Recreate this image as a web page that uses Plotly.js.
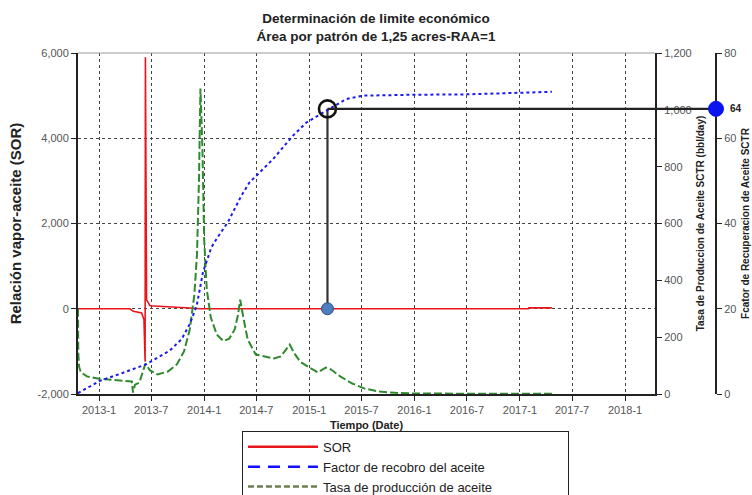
<!DOCTYPE html>
<html>
<head>
<meta charset="utf-8">
<script src="https://cdn.plot.ly/plotly-3.0.1.min.js"></script>
<style>html,body{margin:0;padding:0;background:#fff;}#chart{width:752px;height:495px;}</style>
</head>
<body>
<div id="chart"></div>
<script>
// ---- Data ----
const sorDates = ['2012-10-20','2013-04-18','2013-04-30','2013-05-29','2013-06-06','2013-06-10','2013-06-11','2013-06-13','2013-06-15','2013-06-27','2013-08-24','2013-11-12','2013-12-17','2014-06-01','2015-06-01','2016-06-01','2017-01-30','2017-02-01','2017-04-22'];
const sorValues = [0,0,-60,-100,-260,-1240,5900,3550,210,70,40,16,0,0,0,0,0,20,20];

const rateDates = ['2012-10-20','2012-10-21','2012-10-24','2012-10-30','2012-11-20','2013-01-01','2013-02-10','2013-03-20','2013-04-25','2013-04-29','2013-05-06','2013-05-21','2013-06-11','2013-06-27','2013-07-23','2013-08-28','2013-09-28','2013-10-23','2013-11-12','2013-11-28','2013-12-07','2013-12-14','2013-12-19','2013-12-26','2014-01-01','2014-01-10','2014-01-24','2014-02-14','2014-03-09','2014-03-29','2014-04-17','2014-04-28','2014-05-06','2014-05-17','2014-06-01','2014-06-29','2014-07-30','2014-08-31','2014-09-24','2014-10-15','2014-10-25','2014-11-10','2014-11-30','2015-01-01','2015-01-30','2015-02-27','2015-03-18','2015-04-18','2015-05-30','2015-07-12','2015-08-29','2015-10-27','2015-12-29','2016-07-01','2017-01-01','2017-04-22'];
const rateValues = [300,145,95,76,62,54,50,47,44,5,33,40,107,83,69,79,104,150,227,350,491,755,1075,860,543,368,269,209,186,195,227,276,332,269,192,139,132,125,132,160,174,143,114,93,76,93,86,62,37,19,9,4,2,1,1,1];

const rfDates = ['2012-10-20','2013-01-04','2013-03-14','2013-06-15','2013-09-04','2013-10-15','2013-11-12','2013-12-06','2013-12-28','2014-01-26','2014-02-13','2014-03-25','2014-05-10','2014-06-08','2014-07-01','2014-08-28','2014-11-05','2014-12-22','2015-03-12','2015-05-09','2015-07-06','2015-09-02','2015-12-24','2016-07-02','2016-12-28','2017-04-22'];
const rfValues = [0.2,3.1,4.7,7.0,10.2,12.9,16.4,20.7,28.6,34.4,36.4,40.4,46.5,49.7,51.2,55.1,60.6,63.7,66.9,69.2,70.0,70.1,70.2,70.3,70.6,70.9];

// economic limit point
const limitDate = '2015-03-05';
const limitRF = 66.9;
const limitLabel = '64';
const limitSOR = 0;

// axis ticks / labels
const sorTickVals = [-2000,0,2000,4000,6000];
const sorTickText = ['-2,000','0','2,000','4,000','6,000'];
const rateTickVals = [0,200,400,600,800,1000,1200];
const rateTickText = ['0','200','400','600','800','1,000','1,200'];
const rfTickVals = [0,20,40,60,80];

const seriesNames = ['SOR','Factor de recobro del aceite','Tasa de producción de aceite'];

// ---- Layout constants ----
const xRange = ['2012-10-20','2018-04-15'];
const yRange = [-2000,6000];
const y2Range = [0,1200];
const y3Range = [0,80];
const xDomEnd = 0.9044;
const FONT = 'Liberation Sans, Arial, sans-serif';
const tickFont = {family: FONT, size: 11, color: '#555'};

const frac = (limitRF - y3Range[0]) / (y3Range[1] - y3Range[0]);
const sorAtLimitTop = yRange[0] + frac * (yRange[1] - yRange[0]);
const t0 = new Date(xRange[0]).getTime(), t1 = new Date(xRange[1]).getTime();
const limitXPaper = xDomEnd * (new Date(limitDate).getTime() - t0) / (t1 - t0);

const traces = [
  {x: sorDates, y: sorValues, type: 'scatter', mode: 'lines', yaxis: 'y', showlegend: false,
   line: {color: '#e8161b', width: 1.6}},
  {x: [limitDate, limitDate], y: [limitSOR, sorAtLimitTop], type: 'scatter', mode: 'lines', yaxis: 'y',
   showlegend: false, line: {color: '#333', width: 2.2}, hoverinfo: 'skip'},
  {x: [limitDate], y: [limitSOR], type: 'scatter', mode: 'markers', yaxis: 'y', showlegend: false,
   marker: {size: 12, color: '#4d7ebd', line: {color: '#2c4f7c', width: 1}}},
  {x: rateDates, y: rateValues, type: 'scatter', mode: 'lines', yaxis: 'y2', showlegend: false,
   line: {color: '#2f8a2f', width: 2, dash: '8px,3px'}},
  {x: rfDates, y: rfValues, type: 'scatter', mode: 'lines', yaxis: 'y3', showlegend: false,
   line: {color: '#1a1aee', width: 2, dash: 'dot'}},
  {x: [limitDate], y: [limitRF], type: 'scatter', mode: 'markers', yaxis: 'y3', showlegend: false,
   cliponaxis: false,
   marker: {symbol: 'circle-open', size: 17, color: '#111', line: {width: 2.6}}},
  // legend entries
  {x: [null], y: [null], type: 'scatter', mode: 'lines', name: seriesNames[0], line: {color: '#e8161b', width: 2.5}},
  {x: [null], y: [null], type: 'scatter', mode: 'lines', name: seriesNames[1], line: {color: '#1010ff', width: 2.5, dash: '12px,8px'}},
  {x: [null], y: [null], type: 'scatter', mode: 'lines', name: seriesNames[2], line: {color: '#6b7d52', width: 2.5, dash: '6px,3px'}}
];

const layout = {
  width: 752, height: 495, autosize: false,
  margin: {l: 78, r: 36, t: 53, b: 101, pad: 0, autoexpand: false},
  paper_bgcolor: '#fff', plot_bgcolor: '#fff',
  font: {family: FONT, color: '#222'},
  title: {text: '<b>Determinación de limite económico<br>Área por patrón de 1,25 acres-RAA=1</b>',
          font: {family: FONT, size: 13.5, color: '#222'}, x: 0.5, xref: 'container', xanchor: 'center',
          y: 0.953, yref: 'container', yanchor: 'middle'},
  xaxis: {
    type: 'date', range: xRange, domain: [0, xDomEnd],
    tick0: '2013-01-01', dtick: 'M6', tickformat: '%Y-%-m', tickfont: tickFont,
    showline: true, linecolor: '#222', linewidth: 2, ticks: 'outside', ticklen: 5, tickcolor: '#222',
    showgrid: true, gridcolor: '#444', griddash: 'dot', gridwidth: 1, zeroline: false,
    title: {text: '<b>Tiempo (Date)</b>', font: {family: FONT, size: 11, color: '#222'}, standoff: 6}
  },
  yaxis: {
    range: yRange, tickvals: sorTickVals, ticktext: sorTickText, tickfont: tickFont,
    showline: true, linecolor: '#222', linewidth: 2, ticks: 'outside', ticklen: 5, tickcolor: '#222',
    showgrid: true, gridcolor: '#444', griddash: 'dot', gridwidth: 1, zeroline: false,
    title: {text: '<b>Relación vapor-aceite (SOR)</b>', font: {family: FONT, size: 15, color: '#222'}, standoff: 12}
  },
  yaxis2: {
    overlaying: 'y', side: 'right', anchor: 'x', range: y2Range,
    tickvals: rateTickVals, ticktext: rateTickText, tickfont: tickFont,
    showline: true, linecolor: '#222', linewidth: 2, ticks: 'outside', ticklen: 5, tickcolor: '#222',
    showgrid: false, zeroline: false,
    title: {text: '<b>Tasa de Produccion de Aceite SCTR (bbl/day)</b>', font: {family: FONT, size: 10, color: '#222'}, standoff: 6}
  },
  yaxis3: {
    overlaying: 'y', side: 'right', anchor: 'free', position: 1, range: y3Range,
    tickvals: rfTickVals, tickfont: tickFont,
    showline: true, linecolor: '#222', linewidth: 2, ticks: 'outside', ticklen: 5, tickcolor: '#222',
    showgrid: false, zeroline: false,
    title: {text: '<b>Fcator de Recuperacion de Aceite SCTR</b>', font: {family: FONT, size: 10, color: '#222'}, standoff: 6}
  },
  legend: {
    x: 0.257, y: -0.108, xanchor: 'left', yanchor: 'top', orientation: 'h',
    entrywidth: 240, entrywidthmode: 'pixels',
    bordercolor: '#222', borderwidth: 1, bgcolor: '#fff', itemwidth: 70,
    font: {family: FONT, size: 13, color: '#222'}, tracegroupgap: 0
  },
  shapes: [
    {type: 'line', xref: 'paper', yref: 'paper', x0: 0, x1: xDomEnd, y0: 1, y1: 1,
     line: {color: '#999', width: 1}},
    {type: 'line', xref: 'paper', yref: 'paper', x0: limitXPaper, x1: 1, y0: frac, y1: frac,
     line: {color: '#222', width: 2.2}, layer: 'above'},
    {type: 'circle', xref: 'paper', yref: 'paper', xsizemode: 'pixel', ysizemode: 'pixel',
     xanchor: 1, yanchor: frac, x0: -7.5, x1: 7.5, y0: -7.5, y1: 7.5,
     fillcolor: '#0a14f0', line: {color: '#0a14f0', width: 1}, layer: 'above'}
  ],
  annotations: [
    {xref: 'paper', yref: 'paper', x: 1, y: frac, xshift: 20, xanchor: 'center', yanchor: 'middle',
     text: '<b>' + limitLabel + '</b>', showarrow: false, font: {family: FONT, size: 10, color: '#222'}}
  ]
};

Plotly.newPlot('chart', traces, layout, {displayModeBar: false, staticPlot: true});
</script>
</body>
</html>
